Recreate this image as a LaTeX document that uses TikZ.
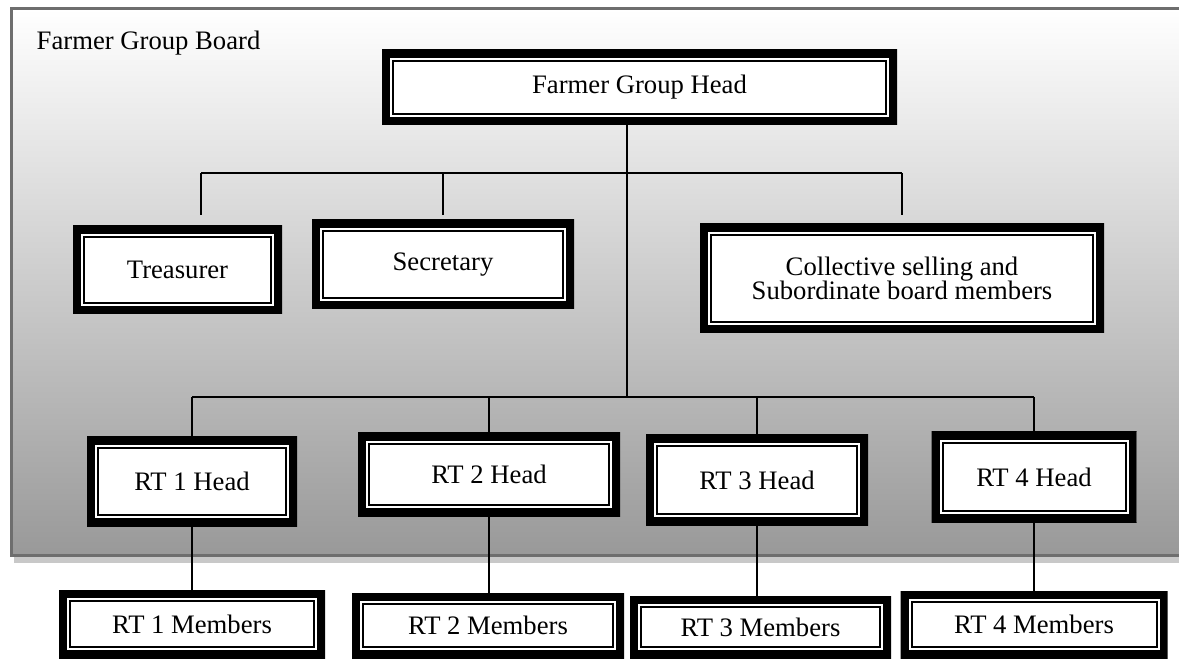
\documentclass[tikz,border=0pt]{standalone}
\usepackage{fontspec}
\setmainfont{Liberation Serif}
\definecolor{bgbot}{RGB}{153,153,153}
\definecolor{framec}{RGB}{110,110,110}
\definecolor{shadowc}{RGB}{200,200,200}
\begin{document}
\begin{tikzpicture}[x=0.75pt,y=-0.75pt,
  sz/.style 2 args={minimum width=#1*0.75pt, minimum height=#2*0.75pt},
  dbl/.style={rectangle, fill=white, inner sep=0pt, align=center,
    font=\fontsize{20}{18.5}\selectfont,
    path picture={
      \draw[line width=12pt] (path picture bounding box.south west) rectangle (path picture bounding box.north east);
      \draw[line width=1.5pt] ([shift={(8.25pt,8.25pt)}]path picture bounding box.south west) rectangle ([shift={(-8.25pt,-8.25pt)}]path picture bounding box.north east);
    }},
  conn/.style={line width=1.1pt, black}
]
\useasboundingbox (0,0) rectangle (1179,659);
\begin{scope}
\clip (0,0) rectangle (1179,659);
\fill[shadowc] (14,556) rectangle (1190,563);
\shade[top color=white, bottom color=bgbot] (11.3,8.7) rectangle (1190,555.3);
\draw[framec, line width=1.9pt] (11.3,8.7) rectangle (1190,555.3);
\end{scope}

\node[anchor=base west, font=\fontsize{20}{24}\selectfont] (board) at (32,50) {Farmer Group Board};

\node[dbl, sz={515}{75}] (head) at (639.5,87.5) {Farmer Group Head};
\node[dbl, sz={209}{88}] (treas) at (177.5,270) {Treasurer};
\node[dbl, sz={262}{89}] (sec) at (443,264.5) {Secretary};
\node[dbl, sz={404}{109}] (coll) at (902,278.5) {Collective selling and\\Subordinate board members};
\node[dbl, sz={210}{89}] (rt1) at (192,481.5) {RT 1 Head};
\node[dbl, sz={262}{83}] (rt2) at (489,474.5) {RT 2 Head};
\node[dbl, sz={222}{90}] (rt3) at (757,480) {RT 3 Head};
\node[dbl, sz={205}{90}] (rt4) at (1034,477) {RT 4 Head};
\node[dbl, sz={266}{68}] (m1) at (192,624) {RT 1 Members};
\node[dbl, sz={272}{65}] (m2) at (488,625.5) {RT 2 Members};
\node[dbl, sz={261}{62}] (m3) at (760.5,627) {RT 3 Members};
\node[dbl, sz={267}{67}] (m4) at (1034,624.5) {RT 4 Members};

\coordinate (ja) at (627,173);
\coordinate (jb) at (627,397);
\coordinate (ta) at (201,173);
\coordinate (tb) at (201,215);
\coordinate (sa) at (443,173);
\coordinate (sb) at (443,215);
\coordinate (ca) at (902,173);
\coordinate (cb) at (902,215);

\draw[conn] (head.south -| ja) -- (jb);
\draw[conn] (ta) -- (ca);
\draw[conn] (ta) -- (tb);
\draw[conn] (sa) -- (sb);
\draw[conn] (ca) -- (cb);
\draw[conn] (rt1.north |- jb) -- (rt4.north |- jb);
\draw[conn] (rt1.north |- jb) -- (rt1.north);
\draw[conn] (rt2.north |- jb) -- (rt2.north);
\draw[conn] (rt3.north |- jb) -- (rt3.north);
\draw[conn] (rt4.north |- jb) -- (rt4.north);
\draw[conn] (rt1.south) -- (m1.north);
\draw[conn] (rt2.south) -- (rt2.south |- m2.north);
\draw[conn] (rt3.south) -- (rt3.south |- m3.north);
\draw[conn] (rt4.south) -- (m4.north);
\end{tikzpicture}
\end{document}
